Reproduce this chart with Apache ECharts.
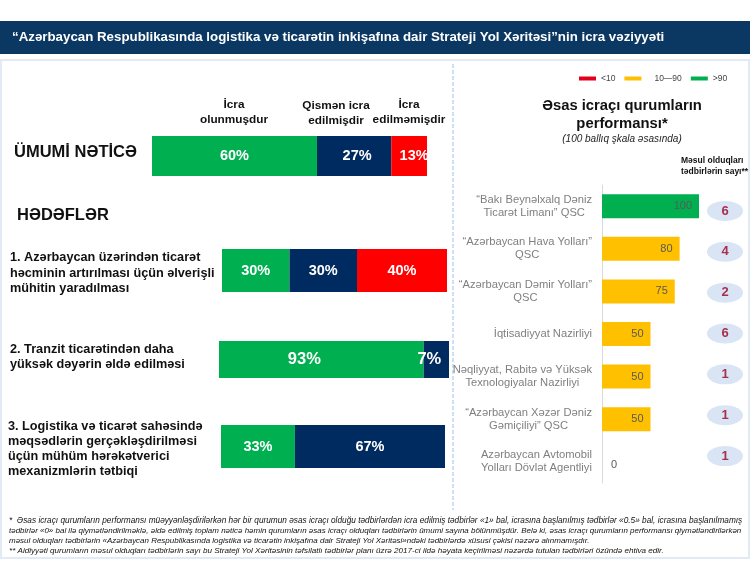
<!DOCTYPE html>
<html>
<head>
<meta charset="utf-8">
<script src="https://cdn.jsdelivr.net/npm/echarts@6/dist/echarts.min.js"></script>
<style>
  html, body { margin: 0; padding: 0; background: #fff; }
  #chart { width: 750px; height: 562px; }
</style>
</head>
<body>
<div id="chart"></div>
<script>
// left block: overall result + three goals
var doneShare = [60, 30, 89, 33]; // goal 2 is drawn 89/11 in the source, labelled 93/7
var partialShare = [27, 30, 11, 67];
var notDoneShare = [13, 40, 0, 0];
var doneLabels = ["60%", "30%", "93%", "33%"];
var partialLabels = ["27%", "30%", "7%", "67%"];
var notDoneLabels = ["13%", "40%", "", ""];

// right block: agencies
var agencies = [
  "“Bakı Beynəlxalq Dəniz\nTicarət Limanı” QSC",
  "“Azərbaycan Hava Yolları”\nQSC",
  "“Azərbaycan Dəmir Yolları”\nQSC",
  "İqtisadiyyat Nazirliyi",
  "Nəqliyyat, Rabitə və Yüksək\nTexnologiyalar Nazirliyi",
  "“Azərbaycan Xəzər Dəniz\nGəmiçiliyi” QSC",
  "Azərbaycan Avtomobil\nYolları Dövlət Agentliyi"
];
var scores = [100, 80, 75, 50, 50, 50, 0];
var measureCounts = [6, 4, 2, 6, 1, 1, 1];

var GREEN = "#00B050", NAVY = "#002B60", RED = "#FF0000", AMBER = "#FFC000";
var FONT = '"Liberation Sans", Arial, sans-serif';

// bar rectangles of the left block
var barBoxes = [
  { left: 152, top: 136, width: 275, height: 40 },
  { left: 222, top: 249, width: 225, height: 43 },
  { left: 219, top: 341, width: 230, height: 37 },
  { left: 221, top: 425, width: 224, height: 43 }
];
var labelSizes = [14.5, 14.5, 16.5, 14.5];
var doneOffsets = [0, 0, -17, 0];
var partialOffsets = [3, 0, -7, 0];
var notDoneOffsets = [5, 0, 0, 0];

var grids = [], xAxes = [], yAxes = [], series = [];

function addStackSeries(idx, name, color, value, text, dx) {
  series.push({
    name: name,
    type: "bar",
    stack: "g" + idx,
    xAxisIndex: idx,
    yAxisIndex: idx,
    barWidth: "100%",
    data: [value],
    itemStyle: { color: color },
    silent: true,
    label: {
      show: !!text,
      position: "inside",
      offset: [dx, 0],
      formatter: text,
      color: "#fff",
      fontFamily: FONT,
      fontWeight: "bold",
      fontSize: labelSizes[idx]
    }
  });
}

barBoxes.forEach(function(box, i) {
  grids.push(box);
  xAxes.push({ gridIndex: i, type: "value", min: 0, max: 100, show: false });
  yAxes.push({ gridIndex: i, type: "category", data: ["x"], show: false });
  addStackSeries(i, "İcra olunmuşdur", GREEN, doneShare[i], doneLabels[i], doneOffsets[i]);
  addStackSeries(i, "Qismən icra edilmişdir", NAVY, partialShare[i], partialLabels[i], partialOffsets[i]);
  if (notDoneShare[i]) {
    addStackSeries(i, "İcra edilməmişdir", RED, notDoneShare[i], notDoneLabels[i], notDoneOffsets[i]);
  }
});

// agency score bars
grids.push({ left: 602, top: 185, width: 97, height: 298 });
xAxes.push({ gridIndex: 4, type: "value", min: 0, max: 100, show: false });
yAxes.push({
  gridIndex: 4,
  type: "category",
  inverse: true,
  data: agencies,
  axisTick: { show: false },
  axisLine: { lineStyle: { color: "#D9D9D9" } },
  axisLabel: {
    interval: 0,
    margin: 10,
    align: "right",
    formatter: function(v) {
      return v.split("\n").map(function(l) { return "{c|" + l + "}"; }).join("\n");
    },
    rich: {
      c: { align: "center", color: "#7F7F7F", fontFamily: FONT, fontSize: 11.2, lineHeight: 13 }
    }
  }
});

function scoreSeries(name, color, test) {
  series.push({
    name: name,
    type: "bar",
    stack: "score",
    xAxisIndex: 4,
    yAxisIndex: 4,
    barWidth: 24,
    silent: true,
    itemStyle: { color: color },
    data: scores.map(function(s) { return test(s) ? s : "-"; }),
    label: {
      show: true,
      position: name === "<10" ? "right" : "insideRight",
      distance: name === "<10" ? 9 : 7,
      offset: name === "<10" ? [0, 3] : [0, 0],
      color: "#595959",
      fontFamily: FONT,
      fontSize: 11
    }
  });
}
scoreSeries("<10", "#E3001B", function(s) { return s < 10; });
scoreSeries("10—90", AMBER, function(s) { return s >= 10 && s <= 90; });
scoreSeries(">90", GREEN, function(s) { return s > 90; });

// number of measures, in its own slightly tighter column
grids.push({ left: 707, top: 190.5, width: 36, height: 286 });
xAxes.push({ gridIndex: 5, type: "value", min: 0, max: 2, show: false });
yAxes.push({ gridIndex: 5, type: "category", inverse: true, data: agencies, show: false });
series.push({
  name: "Məsul olduqları tədbirlərin sayı",
  type: "scatter",
  xAxisIndex: 5,
  yAxisIndex: 5,
  silent: true,
  symbol: "circle",
  symbolSize: [36, 20],
  itemStyle: { color: "#D0DDF3" },
  data: measureCounts.map(function(c, i) { return [1, i, c]; }),
  label: {
    show: true,
    position: "inside",
    formatter: function(p) { return p.value[2]; },
    color: "#9C0020",
    fontFamily: FONT,
    fontWeight: "bold",
    fontSize: 13
  }
});

function txt(text, x, y, size, opts) {
  opts = opts || {};
  return {
    type: "text",
    x: x,
    y: y,
    z: 5,
    silent: true,
    style: {
      text: text,
      fill: opts.fill || "#111",
      font: (opts.italic ? "italic " : "") + (opts.plain ? "" : "bold ") + size + "px " + FONT,
      textAlign: opts.align || "left",
      textVerticalAlign: "middle",
      lineHeight: opts.lh || size * 1.2
    }
  };
}

var graphicEls = [
  { type: "rect", z: 0, silent: true, shape: { x: 0, y: 21, width: 750, height: 33 }, style: { fill: "#0B3763" } },
  // panel frame
  { type: "rect", z: 0, silent: true, shape: { x: 0, y: 59, width: 750, height: 2 }, style: { fill: "#E1EAF5" } },
  { type: "rect", z: 0, silent: true, shape: { x: 0, y: 59, width: 2, height: 500 }, style: { fill: "#E1EAF5" } },
  { type: "rect", z: 0, silent: true, shape: { x: 748, y: 59, width: 2, height: 500 }, style: { fill: "#E1EAF5" } },
  { type: "rect", z: 0, silent: true, shape: { x: 0, y: 557, width: 750, height: 2 }, style: { fill: "#E1EAF5" } },
  { type: "line", z: 0, silent: true, shape: { x1: 453, y1: 64, x2: 453, y2: 510 }, style: { stroke: "#BDD7EE", lineWidth: 1.5, lineDash: [4, 2] } },

  txt("İcra\nolunmuşdur", 234, 112, 11.8, { align: "center", lh: 15 }),
  txt("Qismən icra\nedilmişdir", 336, 113, 11.8, { align: "center", lh: 15 }),
  txt("İcra\nedilməmişdir", 409, 112, 11.8, { align: "center", lh: 15 }),
  txt("ÜMUMİ NƏTİCƏ", 14, 152, 16.5),
  txt("HƏDƏFLƏR", 17, 215, 16.5),
  txt("1. Azərbaycan üzərindən ticarət\nhəcminin artırılması üçün əlverişli\nmühitin yaradılması", 10, 273, 12.7, { lh: 15.5 }),
  txt("2. Tranzit ticarətindən daha\nyüksək dəyərin əldə edilməsi", 10, 357, 12.7, { lh: 15.5 }),
  txt("3. Logistika və ticarət sahəsində\nməqsədlərin gerçəkləşdirilməsi\nüçün mühüm hərəkətverici\nmexanizmlərin tətbiqi", 8, 449, 12.7, { lh: 15 }),
  txt("Məsul olduqları\ntədbirlərin sayı**", 681, 166, 8.5, { lh: 10.5 }),

  txt("*  Əsas icraçı qurumların performansı müəyyənləşdirilərkən hər bir qurumun əsas icraçı olduğu tədbirlərdən icra edilmiş tədbirlər «1» bal, icrasına başlanılmış tədbirlər «0.5» bal, icrasına başlanılmamış", 9, 521, 8.27, { italic: true, plain: true }),
  txt("tədbirlər «0» bal ilə qiymətləndirilməklə, əldə edilmiş toplam nəticə həmin qurumların əsas icraçı olduqları tədbirlərin ümumi sayına bölünmüşdür. Belə ki, əsas icraçı qurumların performansı qiymətləndirilərkən", 9, 531, 7.98, { italic: true, plain: true }),
  txt("məsul olduqları tədbirlərin «Azərbaycan Respublikasında logistika və ticarətin inkişafına dair Strateji Yol Xəritəsi»ndəki tədbirlərdə xüsusi çəkisi nəzərə alınmamışdır.", 9, 541, 7.98, { italic: true, plain: true }),
  txt("** Aidiyyəti qurumların məsul olduqları tədbirlərin sayı bu Strateji Yol Xəritəsinin təfsilatlı tədbirlər planı üzrə 2017-ci ildə həyata keçirilməsi nəzərdə tutulan tədbirləri özündə ehtiva edir.", 9, 551, 8.1, { italic: true, plain: true })
];

var chart = echarts.init(document.getElementById("chart"));
chart.setOption({
  animation: false,
  backgroundColor: "#fff",
  title: [
    {
      text: "“Azərbaycan Respublikasında logistika və ticarətin inkişafına dair Strateji Yol Xəritəsi”nin icra vəziyyəti",
      left: 12,
      top: 31,
      padding: 0,
      textStyle: { color: "#fff", fontFamily: FONT, fontWeight: "bold", fontSize: 13.3 }
    },
    {
      text: "Əsas icraçı qurumların\nperformansı*",
      subtext: "(100 ballıq şkala əsasında)",
      left: 622,
      top: 97,
      padding: 0,
      itemGap: 1,
      textAlign: "center",
      textStyle: { color: "#111", fontFamily: FONT, fontWeight: "bold", fontSize: 14.8, lineHeight: 18 },
      subtextStyle: { color: "#222", fontFamily: FONT, fontStyle: "italic", fontSize: 10 }
    }
  ],
  legend: {
    left: 579,
    top: 74,
    padding: 0,
    itemWidth: 17,
    itemHeight: 4,
    itemGap: 9,
    icon: "rect",
    selectedMode: false,
    textStyle: { color: "#444", fontFamily: FONT, fontSize: 8.5 },
    data: [
      { name: "<10" },
      { name: "10—90", textStyle: { padding: [0, 15, 0, 8] } },
      { name: ">90" }
    ]
  },
  grid: grids,
  xAxis: xAxes,
  yAxis: yAxes,
  series: series,
  graphic: graphicEls
});
</script>
</body>
</html>
